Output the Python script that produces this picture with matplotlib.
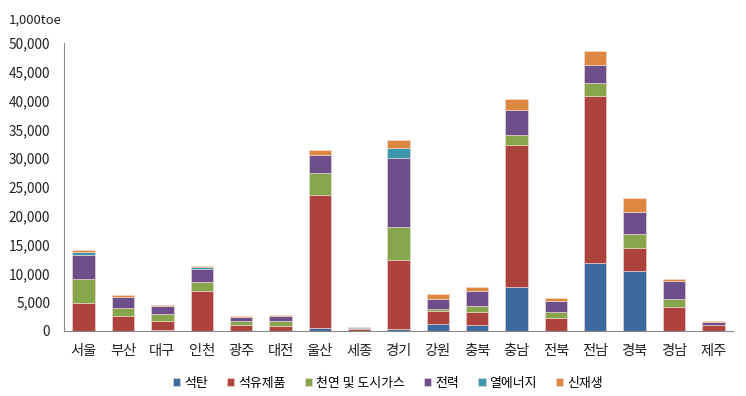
import matplotlib
matplotlib.use('Agg')
import matplotlib.pyplot as plt
import numpy as np
from matplotlib.ticker import FuncFormatter

plt.rcParams['font.family'] = ['Noto Sans CJK KR', 'DejaVu Sans']

regions = ['서울', '부산', '대구', '인천', '광주', '대전', '울산', '세종', '경기',
           '강원', '충북', '충남', '전북', '전남', '경북', '경남', '제주']

series_names = ['석탄', '석유제품', '천연 및 도시가스', '전력', '열에너지', '신재생']

coal = [50, 50, 200, 50, 30, 30, 450, 20, 300, 1270, 1100, 7650, 50, 11850, 10500, 50, 10]
oil = [4750, 2500, 1530, 6950, 1020, 900, 23150, 280, 12000, 2230, 2200, 24650, 2250, 28950, 3900, 4150, 990]
gas = [4150, 1450, 1170, 1500, 680, 800, 3900, 100, 5700, 400, 1050, 1650, 1050, 2300, 2400, 1300, 50]
elec = [4250, 1900, 1450, 2300, 770, 820, 3000, 200, 11950, 1600, 2600, 4350, 1900, 3000, 3800, 3200, 450]
heat = [450, 50, 50, 300, 10, 20, 0, 50, 1750, 0, 0, 0, 0, 0, 0, 0, 0]
renew = [450, 250, 200, 200, 100, 130, 1000, 50, 1400, 850, 700, 1900, 550, 2500, 2500, 400, 150]

colors = ['#3d6a9e', '#ae433d', '#87a64c', '#6c4f8a', '#3a97ac', '#dd8740']

fig = plt.figure(figsize=(7.46, 3.96), dpi=100)
ax = fig.add_axes([64 / 746, 1 - 331 / 396, (733 - 64) / 746, (331 - 43) / 396])

x = np.arange(len(regions))
bottom = np.zeros(len(regions))
for name, vals, c in zip(series_names, [coal, oil, gas, elec, heat, renew], colors):
    vals = np.array(vals, dtype=float)
    ax.bar(x, vals, 0.57, bottom=bottom, color=c, label=name,
           edgecolor='#f4dcd8', linewidth=0.4)
    bottom += vals

ax.set_xlim(-0.5, 16.5)
ax.set_ylim(0, 50000)
ax.set_yticks(np.arange(0, 50001, 5000))
ax.yaxis.set_major_formatter(FuncFormatter(lambda v, p: f'{int(v):,}'))
ax.set_xticks(x)
ax.set_xticklabels(regions)
ax.tick_params(axis='both', length=0, colors='#222222')
ax.tick_params(axis='x', pad=9, labelsize=10.3)
ax.tick_params(axis='y', pad=10, labelsize=9.8)

for s in ['top', 'right']:
    ax.spines[s].set_visible(False)
ax.spines['left'].set_color('#888888')
ax.spines['bottom'].set_color('#888888')
ax.spines['left'].set_linewidth(0.8)
ax.spines['bottom'].set_linewidth(0.8)

fig.text(9 / 746, 1 - 20 / 396, '1,000toe', fontsize=9.5, va='center', ha='left', color='#222222')

fig.legend(loc='center', bbox_to_anchor=(388 / 746, 1 - 383 / 396), ncol=6, frameon=False,
           fontsize=9.3, handlelength=0.55, handleheight=0.55, handletextpad=0.3,
           columnspacing=1.5)

fig.savefig('out.png', dpi=100)
